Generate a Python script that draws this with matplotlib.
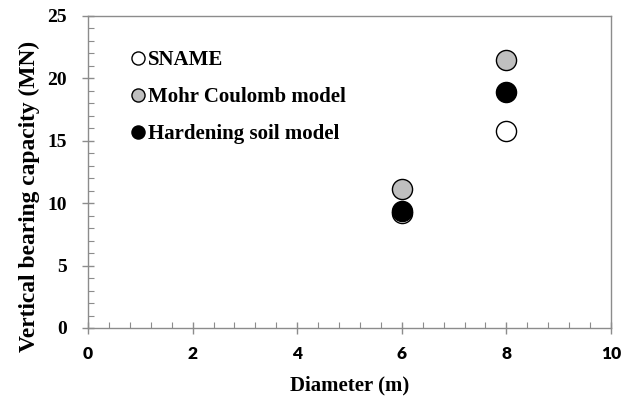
import matplotlib
matplotlib.use("Agg")
import matplotlib.pyplot as plt
from matplotlib.ticker import MultipleLocator

diameters = [6, 8]
sname = [9.2, 15.8]
mohr_coulomb = [11.15, 21.5]
hardening_soil = [9.4, 18.9]

labels = ["SNAME", "Mohr Coulomb model", "Hardening soil model"]
x_ticks = [0, 2, 4, 6, 8, 10]
y_ticks = [0, 5, 10, 15, 20, 25]

serif = ["Liberation Serif", "DejaVu Serif"]
fig = plt.figure(figsize=(6.32, 3.99), dpi=100)
ax = fig.add_axes([88/632, 1 - 328/399, (611-88)/632, (328-16)/399])

ms = 14.5
ax.plot(diameters, sname, 'o', ms=ms, mfc='white', mec='black', mew=1.0, label=labels[0], zorder=3)
ax.plot(diameters, mohr_coulomb, 'o', ms=ms, mfc='#bfbfbf', mec='black', mew=1.0, label=labels[1], zorder=3)
ax.plot(diameters, hardening_soil, 'o', ms=ms, mfc='black', mec='black', mew=1.0, label=labels[2], zorder=4)

ax.set_xlim(0, 10)
ax.set_ylim(0, 25)
ax.set_xticks(x_ticks)
ax.set_yticks(y_ticks)
ax.xaxis.set_minor_locator(MultipleLocator(0.4))
ax.yaxis.set_minor_locator(MultipleLocator(1))

gray = '#8c8c8c'
for s in ax.spines.values():
    s.set_color(gray)
    s.set_linewidth(1.0)
ax.tick_params(which='major', direction='inout', length=8, width=1.0, color=gray)
ax.tick_params(which='minor', direction='in', length=4, width=0.8, color=gray)
ax.tick_params(axis='x', which='major', pad=9)
ax.tick_params(axis='y', which='major', pad=11)

for t in ax.get_xticklabels():
    t.set_fontfamily(["Lato", "DejaVu Sans"])
    t.set_fontweight('heavy')
    t.set_fontsize(12.5)
for t in ax.get_yticklabels():
    t.set_fontfamily(serif)
    t.set_fontweight('bold')
    t.set_fontsize(14)

ax.set_xlabel("Diameter (m)", fontfamily=serif, fontweight='bold', fontsize=15, labelpad=10)
ax.set_ylabel("Vertical bearing capacity (MN)", fontfamily=serif, fontweight='bold', fontsize=16.9)
ax.yaxis.set_label_coords(-0.092, 0.421)

leg = ax.legend(loc='upper left', bbox_to_anchor=(0.0585, 0.925), frameon=False,
                prop={'family': serif, 'weight': 'bold', 'size': 15},
                handlelength=0.9, handletextpad=0.0, labelspacing=0.82, borderpad=0,
                markerscale=0.65)

fig.savefig("out.png", dpi=100)
